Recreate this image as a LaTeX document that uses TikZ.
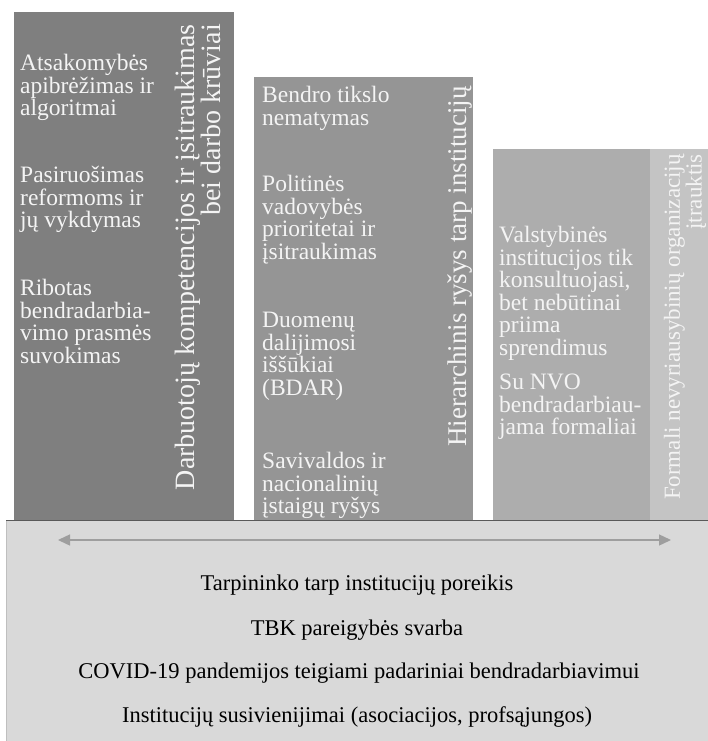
\documentclass[tikz,border=0pt]{standalone}
\usepackage{fontspec}
\setmainfont{Liberation Serif}
\usetikzlibrary{arrows.meta}
\definecolor{barone}{HTML}{7F7F7F}
\definecolor{bartwo}{HTML}{959595}
\definecolor{barthree}{HTML}{ADADAD}
\definecolor{barstrip}{HTML}{C4C4C4}
\definecolor{basegray}{HTML}{D9D9D9}
\definecolor{arrowgray}{HTML}{9E9E9E}
\definecolor{coltext}{HTML}{F4F4F4}

\begin{document}
\begin{tikzpicture}[
  x=1pt, y=-1pt,
  item/.style={anchor=north west, align=left, inner sep=0pt, text=coltext,
    font=\fontsize{23.5}{22.5}\selectfont},
  heading/.style={rotate=90, anchor=east, align=right, inner sep=0pt, text=coltext},
  factor/.style={inner sep=0pt, font=\fontsize{22.5}{26}\selectfont}
]
  \useasboundingbox (0,0) rectangle (708,741);

  % columns
  \fill[barone]   (14,12)  rectangle (234,520);
  \fill[bartwo]   (254,77) rectangle (473,520);
  \fill[barthree] (493,149) rectangle (650,520);
  \fill[barstrip] (650,149) rectangle (708,520);

  % common base
  \fill[basegray] (6,520) rectangle (708,741);
  \draw[black!25,line width=0.6pt] (6,741) -- (6,520);
  \draw[black!65,line width=0.8pt] (6,520) -- (708,520);

  % column 1
  \node[heading,font=\fontsize{28}{25}\selectfont] (h1) at (198,24)
    {Darbuotojų kompetencijos ir įsitraukimas\\bei darbo krūviai};
  \node[item] (a1) at (20,54)  {Atsakomybės\\apibrėžimas ir\\algoritmai};
  \node[item] (a2) at (20,166) {Pasiruošimas\\reformoms ir\\jų vykdymas};
  \node[item] (a3) at (20,279) {Ribotas\\bendradarbia-\\vimo prasmės\\suvokimas};

  % column 2
  \node[heading,font=\fontsize{27}{25}\selectfont] (h2) at (460,86)
    {Hierarchinis ryšys tarp institucijų};
  \node[item] (b1) at (262,86)  {Bendro tikslo\\nematymas};
  \node[item] (b2) at (262,175) {Politinės\\vadovybės\\prioritetai ir\\įsitraukimas};
  \node[item] (b3) at (262,312) {Duomenų\\dalijimosi\\iššūkiai\\(BDAR)};
  \node[item] (b4) at (262,452) {Savivaldos ir\\nacionalinių\\įstaigų ryšys};

  % column 3
  \node[heading,font=\fontsize{23}{18}\selectfont] (h3) at (685,154)
    {Formali nevyriausybinių organizacijų\\įtrauktis};
  \node[item] (c1) at (499,226) {Valstybinės\\institucijos tik\\konsultuojasi,\\bet nebūtinai\\priima\\sprendimus};
  \node[item] (c2) at (499,374) {Su NVO\\bendradarbiau-\\jama formaliai};

  % base
  \coordinate (left end)  at (58,540);
  \coordinate (right end) at (671,540);
  \draw[arrowgray,line width=1.4pt,
    {Triangle[length=12pt,width=11pt]}-{Triangle[length=12pt,width=11pt]}]
    (left end) -- (right end);
  \node[factor] (f1) at (357,585) {Tarpininko tarp institucijų poreikis};
  \node[factor] (f2) at (357,630) {TBK pareigybės svarba};
  \node[factor] (f3) at (359,673) {COVID-19 pandemijos teigiami padariniai bendradarbiavimui};
  \node[factor] (f4) at (357,717) {Institucijų susivienijimai (asociacijos, profsąjungos)};
\end{tikzpicture}
\end{document}
